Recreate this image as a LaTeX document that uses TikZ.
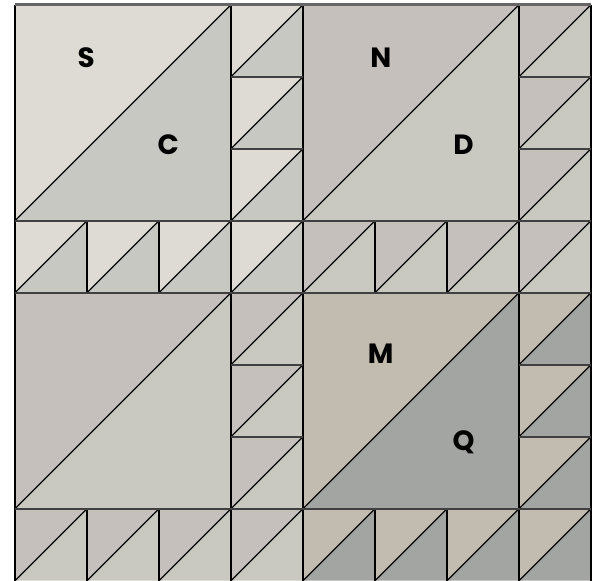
\documentclass[tikz,border=0pt]{standalone}
\usepackage{fontspec}
\newfontfamily\labelfont{Poppins}

\definecolor{sand}{HTML}{DEDBD5}
\definecolor{clay}{HTML}{C8C8C2}
\definecolor{nut}{HTML}{C5C0BC}
\definecolor{dove}{HTML}{C9C9C2}
\definecolor{mocha}{HTML}{C2BBAF}
\definecolor{quarry}{HTML}{A3A5A2}

\tikzset{
  seam/.style={black, line width=0.5pt},
  hseam/.style={black!75, line width=0.8pt},
  letter/.style={font=\labelfont\bfseries\fontsize{11}{13}\selectfont}
}

% 半方三角：左下角 (#1,#2)，边长 #3，左上色 #4，右下色 #5
\newcommand{\hst}[5]{%
  \fill[#4] (#1,#2) -- (#1,#2+#3) -- (#1+#3,#2+#3) -- cycle;
  \fill[#5] (#1,#2) -- (#1+#3,#2) -- (#1+#3,#2+#3) -- cycle;
  \draw[seam] (#1,#2) -- (#1+#3,#2+#3);
}

% 一个 4x4 的块：左下角 (#1,#2)
\newcommand{\quiltblock}[4]{%
  \hst{#1}{#2+1}{3}{#3}{#4}
  \foreach \i in {1,2,3} {\hst{#1+3}{#2+\i}{1}{#3}{#4}}
  \foreach \i in {0,...,3} {\hst{#1+\i}{#2}{1}{#3}{#4}}
}

\begin{document}
\begin{tikzpicture}
    % 画布范围
    \useasboundingbox (-0.208,0.01) rectangle (8.083,8.065);

    % 四个块
    \quiltblock{0}{4}{sand}{clay}
    \quiltblock{4}{4}{nut}{dove}
    \quiltblock{0}{0}{nut}{dove}
    \quiltblock{4}{0}{mocha}{quarry}

    % 竖线
    \foreach \x in {0,3,4,7,8} {\draw[seam] (\x,0) -- (\x,8);}
    \foreach \x in {1,2,5,6} {
      \draw[seam] (\x,0) -- (\x,1);
      \draw[seam] (\x,4) -- (\x,5);
    }

    % 横线
    \foreach \y in {1,4,5} {\draw[hseam] (0,\y) -- (8,\y);}
    \foreach \y in {2,3,6,7} {
      \draw[hseam] (3,\y) -- (4,\y);
      \draw[hseam] (7,\y) -- (8,\y);
    }

    % 上边框
    \draw[black!60, line width=1pt] (0,8) -- (8,8);

    % 字母
    \node[letter] (s) at (0.99,7.26) {S};
    \node[letter] (c) at (2.13,6.05) {C};
    \node[letter] (n) at (5.08,7.26) {N};
    \node[letter] (d) at (6.23,6.05) {D};
    \node[letter] (m) at (5.08,3.15) {M};
    \node[letter] (q) at (6.23,1.92) {Q};
\end{tikzpicture}
\end{document}
